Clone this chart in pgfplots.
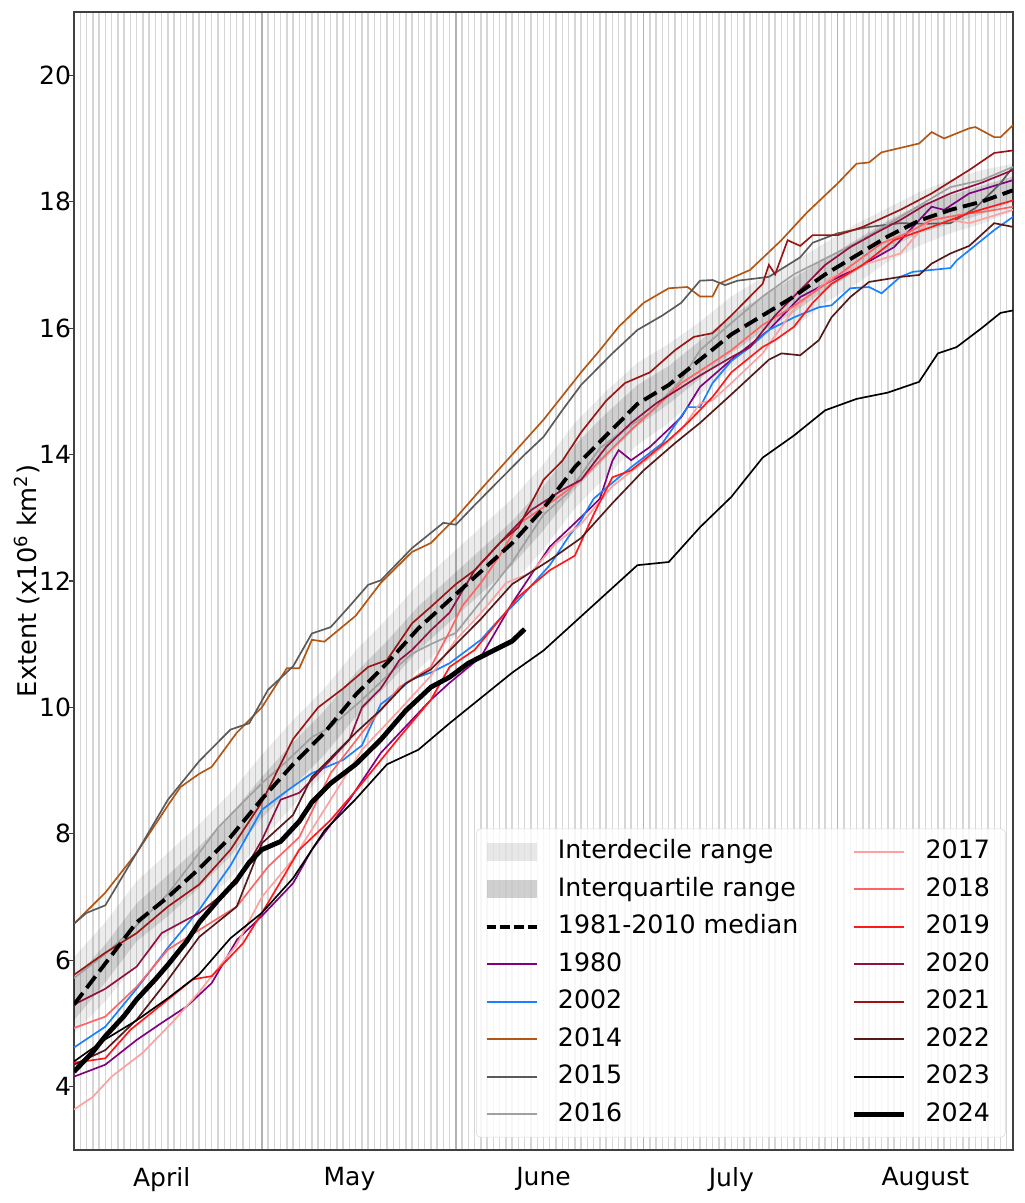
\documentclass[border=0pt]{standalone}
\usepackage{fontspec}
\setmainfont{DejaVu Sans}
\usepackage{pgfplots}
\usepackage{pgfplotstable}
\pgfplotsset{compat=1.18}
\usepgfplotslibrary{fillbetween}

\definecolor{c1980}{RGB}{128,0,128}
\definecolor{c2002}{RGB}{25,128,255}
\definecolor{c2014}{RGB}{178,86,20}
\definecolor{c2015}{RGB}{90,90,90}
\definecolor{c2016}{RGB}{160,160,160}
\definecolor{c2017}{RGB}{255,160,160}
\definecolor{c2018}{RGB}{255,100,100}
\definecolor{c2019}{RGB}{255,25,25}
\definecolor{c2020}{RGB}{145,15,65}
\definecolor{c2021}{RGB}{155,20,20}
\definecolor{c2022}{RGB}{85,25,25}

\pgfplotsset{
  lineleg/.style={legend image code/.code={\draw[rounded corners=0pt] (0pt,0pt) -- (36pt,0pt);}},
  arealeg/.style={legend image code/.code={\path[draw=none, rounded corners=0pt, fill] (0pt,-6.5pt) rectangle (36pt,6.5pt);}},
  yr/.style={line width=1.2pt, forget plot},
}

% day 0 = 1 April
\pgfplotstableread{
d med q10 q25 q75 q90
0 5.30 4.85 5.05 5.70 6.05
5 5.95 5.35 5.65 6.25 6.60
10 6.60 5.95 6.30 6.90 7.25
15 7.00 6.40 6.70 7.35 7.70
20 7.45 6.85 7.15 7.80 8.15
25 7.95 7.30 7.65 8.30 8.65
30 8.55 7.90 8.25 8.90 9.25
35 9.10 8.45 8.75 9.45 9.80
40 9.60 8.95 9.25 9.95 10.30
45 10.20 9.55 9.85 10.55 10.90
50 10.70 10.05 10.35 11.05 11.40
55 11.25 10.60 10.90 11.60 11.95
60 11.70 11.05 11.35 12.05 12.40
65 12.15 11.50 11.80 12.50 12.85
70 12.60 11.95 12.25 12.95 13.30
75 13.15 12.50 12.80 13.50 13.85
80 13.80 13.15 13.45 14.15 14.50
85 14.30 13.65 13.95 14.65 15.00
90 14.80 14.15 14.45 15.10 15.45
95 15.10 14.50 14.80 15.40 15.75
100 15.50 14.95 15.20 15.80 16.10
105 15.90 15.35 15.60 16.20 16.50
110 16.20 15.70 15.95 16.50 16.80
115 16.50 16.00 16.25 16.80 17.05
120 16.85 16.40 16.60 17.10 17.35
125 17.15 16.70 16.90 17.40 17.65
130 17.45 17.05 17.25 17.70 17.90
135 17.70 17.30 17.50 17.95 18.15
140 17.87 17.50 17.65 18.10 18.35
145 18.00 17.65 17.80 18.25 18.50
150 18.18 17.85 18.00 18.40 18.60
}\band

\begin{document}
\begin{tikzpicture}
\begin{axis}[
    scale only axis,
    width=676.08pt, height=819.36pt,
    xmin=0, xmax=150,
    ymin=3, ymax=21,
    axis line style={black!75, line width=0.8pt},
    xtick={14,44,75,105,136},
    xticklabels={April,May,June,July,August},
    minor xtick={0,1,...,150},
    xminorgrids=true,
    minor grid style={black!16, line width=1.05pt},
    major grid style={black!30, line width=1.1pt},
    extra x ticks={30,61,91,122},
    extra x tick labels={},
    extra x tick style={grid=major},
    every major x tick/.append style={draw=none},
    every minor x tick/.append style={draw=none},
    every extra x tick/.append style={draw=none},
    ytick={4,6,...,20},
    ytick pos=left,
    tick align=outside,
    major tick length=3.5pt,
    every major y tick/.append style={black!75, line width=0.8pt},
    /pgf/number format/assume math mode=true,
    tick label style={font=\fontsize{18}{22}\selectfont},
    xticklabel style={yshift=-5.4pt},
    yticklabel style={inner xsep=1pt, xshift=2.5pt},
    ylabel={Extent (x10\textsuperscript{6} km\textsuperscript{2})},
    ylabel style={font=\fontsize{18.5}{22}\selectfont, at={(axis description cs:-0.0503,0.5)}, anchor=center},
    lineleg,
    legend columns=2,
    legend cell align=left,
    legend style={
      at={(0.992,0.011)}, anchor=south east,
      draw=black!15, rounded corners=3pt,
      fill=white, fill opacity=0.8, text opacity=1, draw opacity=1,
      font=\fontsize{18.2}{22}\selectfont,
      inner xsep=6pt, inner ysep=3pt,
      nodes={inner xsep=5pt, inner ysep=4.5pt, text height=14pt, text depth=4pt},
      /tikz/every odd column/.append style={column sep=9pt},
      /tikz/every even column/.append style={column sep=33pt},
    },
]

% ranges
\addplot[draw=none, name path=q90, forget plot] table[x=d, y=q90]{\band};
\addplot[draw=none, name path=q10, forget plot] table[x=d, y=q10]{\band};
\addplot[draw=none, name path=q75, forget plot] table[x=d, y=q75]{\band};
\addplot[draw=none, name path=q25, forget plot] table[x=d, y=q25]{\band};
\addplot[fill=black, fill opacity=0.075, draw=none, forget plot] fill between[of=q90 and q10];
\addplot[fill=black, fill opacity=0.12, draw=none, forget plot] fill between[of=q75 and q25];

% 1980
\addplot[yr, c1980] coordinates {
(0,4.16)(5,4.35)(10,4.74)(14,5.01)(18,5.27)(22,5.64)(26,6.32)(30,6.7)(35,7.22)(38,7.75)
(44,8.54)(49,9.28)(53,9.7)(57,10.12)(60,10.39)(65,10.8)(70,11.65)(76,12.54)(81,13.01)(84,13.3)
(86,13.9)(87,14.07)(89,13.91)(92,14.12)(97,14.59)(100,15.07)(105,15.5)(111,15.97)(116,16.49)
(121,16.75)(126,17.0)(131,17.28)(137,17.92)(139,17.87)(143,18.13)(150,18.34)};
% 2002
\addplot[yr, c2002] coordinates {
(0,4.62)(5,4.95)(10,5.55)(15,6.2)(20,6.8)(25,7.5)(30,8.38)(34,8.68)(38,8.96)(43,9.17)
(46,9.4)(49,10.05)(51,10.2)(54,10.45)(57,10.55)(60,10.7)(65,11.07)(68,11.4)(71,11.7)(76,12.25)
(79,12.7)(81,12.96)(83,13.3)(85,13.47)(89,13.8)(94,14.18)(98,14.75)(100,14.75)(102,15.13)
(105,15.48)(108,15.7)(111,15.97)(115,16.17)(119,16.33)(121,16.36)(124,16.63)(127,16.65)
(129,16.55)(132,16.81)(134,16.89)(137,16.92)(140,16.95)(141,17.07)(143,17.23)(147,17.55)(150,17.76)};
% 2014
\addplot[yr, c2014] coordinates {
(0,6.58)(5,7.07)(10,7.7)(15,8.45)(17,8.74)(20,8.95)(22,9.06)(26,9.6)(30,10.0)(34,10.62)
(36,10.62)(38,11.07)(40,11.04)(45,11.45)(49,11.97)(54,12.46)(57,12.6)(61,13.0)(65,13.45)
(70,14.0)(75,14.55)(81,15.3)(84,15.65)(87,16.02)(91,16.4)(95,16.63)(98,16.65)(100,16.5)
(102,16.5)(103,16.7)(105,16.79)(108,16.92)(113,17.39)(117,17.82)(122,18.29)(125,18.6)
(127,18.62)(129,18.78)(135,18.92)(137,19.1)(139,19.0)(143,19.16)(144,19.18)(147,19.02)
(148,19.02)(150,19.21)};
% 2015
\addplot[yr, c2015] coordinates {
(0,6.58)(2,6.75)(5,6.87)(10,7.7)(15,8.54)(20,9.15)(25,9.65)(28,9.75)(31,10.28)(35,10.65)
(38,11.17)(41,11.27)(44,11.6)(47,11.94)(49,12.01)(54,12.52)(57,12.76)(59,12.92)(61,12.89)
(64,13.2)(68,13.6)(72,14.0)(75,14.28)(78,14.7)(81,15.1)(86,15.6)(90,15.97)(94,16.2)(97,16.4)
(100,16.75)(102,16.76)(104,16.68)(106,16.75)(111,16.81)(116,17.12)(118,17.35)(122,17.5)
(127,17.6)(132,17.66)(136,17.65)(140,17.66)(144,17.9)(148,18.29)(150,18.55)};
% 2016
\addplot[yr, c2016] coordinates {
(0,5.72)(5,6.1)(10,6.55)(15,7.05)(20,7.7)(23,8.1)(26,8.4)(30,8.8)(34,9.15)(38,9.53)
(41,9.69)(46,10.12)(51,10.59)(54,10.85)(57,11.0)(61,11.18)(66,11.8)(70,12.3)(75,13.05)
(79,13.4)(84,14.1)(88,14.4)(92,14.66)(97,15.18)(100,15.65)(105,16.08)(110,16.5)(115,16.85)
(120,17.1)(125,17.35)(132,17.76)(140,18.23)(145,18.34)(150,18.55)};
% 2017
\addplot[yr, c2017] coordinates {
(0,3.64)(3,3.84)(6,4.16)(11,4.54)(16,5.05)(20,5.5)(26,6.25)(30,7.0)(35,7.6)(41,8.54)
(46,9.33)(52,9.96)(57,10.5)(61,11.07)(65,11.49)(69,11.97)(73,12.13)(77,12.6)(81,12.9)
(86,13.5)(92,13.96)(97,14.39)(100,14.81)(102,14.86)(105,15.13)(110,15.6)(115,16.3)(121,16.8)
(126,17.0)(132,17.18)(137,17.75)(143,17.66)(150,17.87)};
% 2018
\addplot[yr, c2018] coordinates {
(0,4.93)(5,5.11)(10,5.58)(15,6.17)(20,6.48)(26,6.85)(31,7.48)(36,7.95)(41,8.96)(46,9.6)
(52,10.32)(57,10.64)(60,11.2)(62,11.6)(65,11.97)(68,12.4)(71,12.9)(74,13.1)(77,13.3)(81,13.6)
(85,14.0)(89,14.39)(93,14.75)(97,15.13)(102,15.45)(105,15.65)(110,16.05)(115,16.35)(121,16.76)
(125,17.05)(129,17.34)(133,17.5)(137,17.71)(142,17.8)(146,17.85)(150,17.92)};
% 2019
\addplot[yr, c2019] coordinates {
(0,4.38)(5,4.45)(9,4.9)(14,5.3)(19,5.7)(22,5.75)(27,6.27)(31,6.91)(36,7.75)(41,8.22)
(46,8.8)(52,9.53)(57,10.12)(60,10.64)(64,10.91)(67,11.27)(71,11.75)(76,12.17)(80,12.4)
(83,13.05)(86,13.64)(89,13.75)(95,14.23)(98,14.5)(102,14.91)(105,15.3)(110,15.7)(112,15.81)
(115,16.02)(118,16.4)(121,16.7)(126,17.0)(131,17.39)(137,17.6)(143,17.82)(150,18.02)};
% 2020
\addplot[yr, c2020] coordinates {
(0,5.3)(5,5.55)(10,5.9)(14,6.43)(20,6.75)(26,7.22)(30,7.9)(33,8.54)(36,8.65)(39,8.96)
(44,9.49)(46,10.0)(49,10.3)(52,10.75)(54,10.91)(57,11.22)(60,11.5)(64,12.17)(68,12.6)
(73,13.12)(78,13.44)(81,13.6)(85,14.12)(89,14.5)(93,14.81)(100,15.25)(105,15.54)(108,15.7)
(112,16.2)(116,16.6)(120,17.0)(124,17.28)(128,17.5)(132,17.71)(136,17.95)(140,18.13)
(145,18.3)(150,18.5)};
% 2021
\addplot[yr, c2021] coordinates {
(0,5.77)(5,6.12)(10,6.43)(15,6.85)(20,7.2)(25,7.75)(30,8.5)(35,9.5)(39,10.0)(43,10.3)
(47,10.64)(50,10.75)(54,11.33)(57,11.59)(61,11.95)(64,12.17)(68,12.6)(71,12.85)(75,13.6)
(78,13.9)(81,14.35)(85,14.85)(88,15.13)(92,15.3)(96,15.65)(99,15.86)(102,15.92)(105,16.2)
(108,16.5)(110,16.7)(111,17.0)(112,16.85)(114,17.39)(116,17.3)(118,17.47)(122,17.47)
(126,17.6)(132,17.87)(137,18.13)(143,18.5)(147,18.77)(150,18.81)};
% 2022
\addplot[yr, c2022] coordinates {
(0,4.35)(5,4.58)(10,5.06)(15,5.69)(20,6.37)(26,6.85)(30,7.85)(35,8.3)(38,8.9)(45,9.6)
(49,9.96)(53,10.38)(57,10.6)(61,11.0)(65,11.4)(70,11.95)(76,12.33)(81,12.68)(86,13.23)
(91,13.75)(96,14.18)(100,14.5)(105,14.95)(111,15.5)(113,15.6)(116,15.57)(119,15.81)
(121,16.17)(124,16.49)(127,16.73)(132,16.81)(135,16.84)(137,17.02)(140,17.18)(143,17.3)
(147,17.66)(150,17.6)};
% 2023
\addplot[yr, black] coordinates {
(0,4.4)(5,4.75)(10,5.05)(15,5.4)(20,5.78)(25,6.35)(30,6.75)(35,7.3)(40,8.05)(45,8.55)
(50,9.1)(55,9.33)(60,9.75)(65,10.15)(70,10.55)(75,10.9)(80,11.35)(85,11.8)(90,12.25)
(95,12.3)(100,12.85)(105,13.33)(110,13.95)(115,14.3)(120,14.7)(125,14.88)(130,14.98)
(135,15.15)(138,15.6)(141,15.7)(145,16.0)(148,16.24)(150,16.28)};
% median
\addplot[black, line width=2.8pt, dash pattern=on 10.5pt off 4.5pt, forget plot]
  table[x=d, y=med]{\band};
% 2024
\addplot[black, line width=3.5pt, forget plot] coordinates {
(0,4.24)(3,4.55)(5,4.8)(8,5.12)(10,5.38)(13,5.7)(15,5.93)(18,6.3)(20,6.6)(23,6.95)
(26,7.27)(28,7.55)(30,7.75)(33,7.88)(36,8.2)(38,8.5)(41,8.8)(45,9.1)(49,9.49)(53,9.95)
(57,10.32)(60,10.48)(63,10.7)(65,10.8)(68,10.95)(70,11.05)(72,11.24)};

% legend, filled row by row
\addlegendimage{arealeg, fill=black, fill opacity=0.09}
\addlegendentry{Interdecile range}
\addlegendimage{c2017, line width=1.2pt}
\addlegendentry{2017}
\addlegendimage{arealeg, fill=black, fill opacity=0.18}
\addlegendentry{Interquartile range}
\addlegendimage{c2018, line width=1.2pt}
\addlegendentry{2018}
\addlegendimage{black, line width=2.8pt, dash pattern=on 7pt off 3pt}
\addlegendentry{1981-2010 median}
\addlegendimage{c2019, line width=1.2pt}
\addlegendentry{2019}
\addlegendimage{c1980, line width=1.2pt}
\addlegendentry{1980}
\addlegendimage{c2020, line width=1.2pt}
\addlegendentry{2020}
\addlegendimage{c2002, line width=1.2pt}
\addlegendentry{2002}
\addlegendimage{c2021, line width=1.2pt}
\addlegendentry{2021}
\addlegendimage{c2014, line width=1.2pt}
\addlegendentry{2014}
\addlegendimage{c2022, line width=1.2pt}
\addlegendentry{2022}
\addlegendimage{c2015, line width=1.2pt}
\addlegendentry{2015}
\addlegendimage{black, line width=1.2pt}
\addlegendentry{2023}
\addlegendimage{c2016, line width=1.2pt}
\addlegendentry{2016}
\addlegendimage{black, line width=3.5pt}
\addlegendentry{2024}
\end{axis}
\path (-53.28pt,-38.16pt) rectangle (684pt,828pt);
\end{tikzpicture}
\end{document}
